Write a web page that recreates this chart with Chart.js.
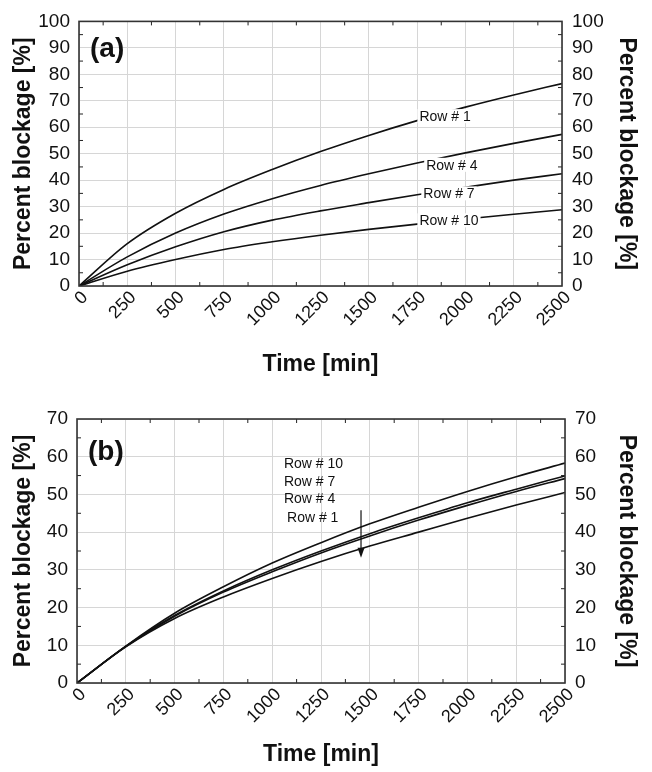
<!DOCTYPE html>
<html>
<head>
<meta charset="utf-8">
<script src="https://cdn.jsdelivr.net/npm/chart.js@4.4.1/dist/chart.umd.min.js"></script>
<style>
  html, body { margin: 0; padding: 0; background: #fff; }
  #wrap { position: relative; width: 652px; height: 772px; }
  canvas { position: absolute; left: 0; }
</style>
</head>
<body>
<div id="wrap">
  <canvas id="panelA" width="652" height="386" style="top:0"></canvas>
  <canvas id="panelB" width="652" height="386" style="top:386px"></canvas>
</div>
<script>
// time axis (min)
const times = [0, 250, 500, 750, 1000, 1250, 1500, 1750, 2000, 2250, 2500];
const rowNames = ['Row # 1', 'Row # 4', 'Row # 7', 'Row # 10'];

// (a) percent blockage per row
const a_row1  = [0, 16.0, 27.5, 36.5, 44.0, 50.8, 56.9, 62.5, 67.6, 72.2, 76.5];
const a_row4  = [0, 11.0, 20.0, 27.2, 33.0, 38.0, 42.4, 46.5, 50.3, 53.9, 57.3];
const a_row7  = [0, 8.0, 14.8, 20.5, 24.9, 28.4, 31.5, 34.5, 37.3, 40.0, 42.4];
const a_row10 = [0, 5.6, 10.0, 13.8, 16.7, 19.2, 21.4, 23.4, 25.3, 27.1, 28.8];

// (b) percent blockage per row
const b_row1  = [0, 9.6, 17.1, 22.8, 27.7, 32.2, 36.3, 40.0, 43.7, 47.2, 50.5];
const b_row4  = [0, 9.7, 17.7, 24.1, 29.5, 34.5, 39.0, 43.2, 47.1, 50.8, 54.2];
const b_row7  = [0, 9.7, 17.9, 24.4, 30.0, 35.0, 39.6, 43.8, 47.8, 51.4, 54.9];
const b_row10 = [0, 9.8, 18.5, 25.5, 31.8, 37.2, 42.2, 46.6, 50.8, 54.7, 58.3];

const FONT = "'Liberation Sans', Arial, sans-serif";

// frame, inward minor ticks, panel letter, curve labels, arrow
const decorPlugin = {
  id: 'decor',
  afterDatasetsDraw(chart, args, opts) {
    const { ctx, chartArea: a } = chart;
    const xs = chart.scales.x, ys = chart.scales.y;
    ctx.save();
    ctx.strokeStyle = '#222';
    ctx.lineWidth = 1;
    ctx.beginPath();
    for (let t = 125; t < 2500; t += 250) {
      const px = xs.getPixelForValue(t);
      ctx.moveTo(px, a.bottom); ctx.lineTo(px, a.bottom - 4);
      ctx.moveTo(px, a.top); ctx.lineTo(px, a.top + 4);
    }
    for (let v = 5; v < ys.max; v += 10) {
      const py = ys.getPixelForValue(v);
      ctx.moveTo(a.left, py); ctx.lineTo(a.left + 4, py);
      ctx.moveTo(a.right, py); ctx.lineTo(a.right - 4, py);
    }
    ctx.stroke();

    ctx.lineWidth = 1.6;
    ctx.strokeStyle = '#333';
    ctx.strokeRect(a.left, a.top, a.right - a.left, a.bottom - a.top);

    ctx.fillStyle = '#111';
    ctx.font = 'bold 28px ' + FONT;
    ctx.textBaseline = 'middle';
    ctx.textAlign = 'left';
    ctx.fillText(opts.letter, a.left + 11, a.top + opts.letterDy);

    ctx.font = '14px ' + FONT;
    opts.labels.forEach(l => {
      const px = xs.getPixelForValue(l.t), py = ys.getPixelForValue(l.v);
      const w = ctx.measureText(l.text).width;
      const x0 = l.align === 'left' ? px : px - w / 2;
      if (l.box) {
        ctx.fillStyle = '#fff';
        ctx.fillRect(x0 - 2, py - 7, w + 4, 14);
      }
      ctx.fillStyle = '#111';
      ctx.fillText(l.text, x0, py + 1);
    });

    if (opts.arrow) {
      const ax = xs.getPixelForValue(opts.arrow.t);
      const y1 = ys.getPixelForValue(opts.arrow.from), y2 = ys.getPixelForValue(opts.arrow.to);
      ctx.strokeStyle = '#111';
      ctx.lineWidth = 1.2;
      ctx.beginPath(); ctx.moveTo(ax, y1); ctx.lineTo(ax, y2 - 8); ctx.stroke();
      ctx.beginPath();
      ctx.moveTo(ax - 3.5, y2 - 10); ctx.lineTo(ax + 3.5, y2 - 10); ctx.lineTo(ax, y2);
      ctx.closePath(); ctx.fill();
    }
    ctx.restore();
  }
};

function makePanel(id, series, yMax, box, decor) {
  const yTicks = { stepSize: 10, color: '#111', padding: 9, font: { family: FONT, size: 19 } };
  const yTitle = (pad) => ({
    display: true, text: 'Percent blockage [%]', color: '#111',
    font: { family: FONT, size: 23, weight: 'bold' }, padding: { top: pad, bottom: 0 }
  });
  new Chart(document.getElementById(id).getContext('2d'), {
    type: 'line',
    data: {
      labels: times,
      datasets: series.map((s, i) => ({
        label: rowNames[i],
        data: times.map((t, k) => ({ x: t, y: s[k] })),
        borderColor: '#111',
        borderWidth: 1.6,
        pointRadius: 0,
        cubicInterpolationMode: 'monotone',
        fill: false
      }))
    },
    options: {
      responsive: false,
      animation: false,
      devicePixelRatio: 1,
      layout: { padding: { top: box.top, left: 0, right: 0, bottom: 0 } },
      plugins: { legend: { display: false }, tooltip: { enabled: false }, decor: decor },
      scales: {
        x: {
          type: 'linear', min: 0, max: 2500,
          afterFit(s) { s.height = box.xh; },
          grid: { color: '#d6d6d6', drawTicks: false },
          border: { display: false },
          ticks: {
            stepSize: 250, color: '#111', padding: 1, labelOffset: 6,
            maxRotation: 45, minRotation: 45,
            font: { family: FONT, size: 18 },
            callback: v => String(v)
          },
          title: {
            display: true, text: 'Time [min]', color: '#111',
            font: { family: FONT, size: 23, weight: 'bold' }, padding: { top: 0, bottom: box.xPad }
          }
        },
        y: {
          position: 'left', min: 0, max: yMax,
          afterFit(s) { s.width = box.left; },
          grid: { color: '#d6d6d6', drawTicks: false },
          border: { display: false },
          ticks: yTicks,
          title: yTitle(10)
        },
        y2: {
          position: 'right', min: 0, max: yMax,
          afterFit(s) { s.width = box.right; },
          grid: { display: false, drawTicks: false },
          border: { display: false },
          ticks: Object.assign({}, yTicks, { padding: 10 }),
          title: yTitle(12)
        }
      }
    },
    plugins: [decorPlugin]
  });
}

makePanel('panelA', [a_row1, a_row4, a_row7, a_row10], 100,
  { top: 20, left: 79, right: 90, xh: 100, xPad: 8 },
  {
    letter: '(a)', letterDy: 28,
    labels: [
      { text: rowNames[0], t: 1895, v: 64.2, box: true },
      { text: rowNames[1], t: 1930, v: 45.8, box: true },
      { text: rowNames[2], t: 1915, v: 35.0, box: true },
      { text: rowNames[3], t: 1915, v: 24.8, box: true }
    ]
  });

makePanel('panelB', [b_row1, b_row4, b_row7, b_row10], 70,
  { top: 33, left: 77, right: 87, xh: 89, xPad: 4 },
  {
    letter: '(b)', letterDy: 33,
    labels: [
      { text: rowNames[3], t: 1060, v: 58.4, align: 'left' },
      { text: rowNames[2], t: 1060, v: 53.6, align: 'left' },
      { text: rowNames[1], t: 1060, v: 49.1, align: 'left' },
      { text: rowNames[0], t: 1076, v: 44.0, align: 'left' }
    ],
    arrow: { t: 1455, from: 45.8, to: 33.2 }
  });
</script>
</body>
</html>
